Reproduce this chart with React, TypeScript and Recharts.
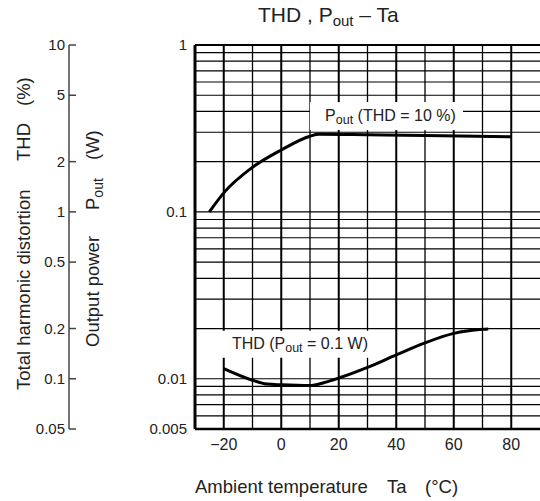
import React from "react";
import {
  LineChart,
  Line,
  XAxis,
  YAxis,
  ReferenceLine,
  ReferenceDot,
  Label,
} from "recharts";

const FONT = "'Liberation Sans', Arial, Helvetica, sans-serif";

// Pout (THD = 10 %) curve
const poutTa = [-25, -20, -10, 0, 10, 13, 30, 50, 80];
const poutW = [0.1, 0.13, 0.185, 0.235, 0.284, 0.292, 0.29, 0.287, 0.282];

// THD (Pout = 0.1 W) curve
const thdTa = [-20, -10, -5, 0, 10, 15, 20, 30, 40, 50, 60, 70, 72];
const thdPct = [0.115, 0.098, 0.093, 0.092, 0.091, 0.095, 0.101, 0.117, 0.139, 0.164, 0.187, 0.198, 0.199];

const taTicks = [-20, 0, 20, 40, 60, 80];
const poutTicks = [1, 0.1, 0.01, 0.005];
const thdTicks = [10, 5, 2, 1, 0.5, 0.2, 0.1, 0.05];

const gridTa = [-20, -10, 0, 10, 20, 30, 40, 50, 60, 70, 80];
const gridPout = [
  0.9, 0.8, 0.7, 0.6, 0.5, 0.4, 0.3, 0.2, 0.1,
  0.09, 0.08, 0.07, 0.06, 0.05, 0.04, 0.03, 0.02, 0.01,
  0.009, 0.008, 0.007, 0.006,
];

const poutData = poutTa.map((ta, i) => ({ ta, pout: poutW[i] }));
const thdData = thdTa.map((ta, i) => ({ ta, thd: thdPct[i] }));

const fmtTa = (v: number) => (v < 0 ? `\u2212${-v}` : `${v}`);

function PoutTick({ x, y, payload }: any) {
  return (
    <text x={x} y={y} dy={5} textAnchor="end" fontSize={15} fill="#222" fontFamily={FONT}>
      {payload.value}
    </text>
  );
}

function ThdTick({ x, y, payload }: any) {
  return (
    <g>
      <line x1={x} x2={x + 7} y1={y} y2={y} stroke="#444" strokeWidth={1.5} />
      <text x={x - 4} y={y} dy={5} textAnchor="end" fontSize={15} fill="#222" fontFamily={FONT}>
        {payload.value}
      </text>
    </g>
  );
}

function VText({ x, y, children }: any) {
  return (
    <text
      x={x}
      y={y}
      transform={`rotate(-90 ${x} ${y})`}
      fontSize={18.5}
      fill="#222"
      fontFamily={FONT}
    >
      {children}
    </text>
  );
}

function ThdAxisTitle({ viewBox }: any) {
  const bx = viewBox.x + 30;
  const top = viewBox.y;
  return (
    <g>
      <VText x={bx} y={top + 345}>Total harmonic distortion</VText>
      <VText x={bx} y={top + 116}>THD</VText>
      <VText x={bx} y={top + 61}>(%)</VText>
    </g>
  );
}

function PoutAxisTitle({ viewBox }: any) {
  const bx = viewBox.x + 30;
  const top = viewBox.y;
  return (
    <g>
      <VText x={bx} y={top + 302}>Output power</VText>
      <VText x={bx} y={top + 165}>
        P<tspan fontSize={14} dy={4}>out</tspan>
      </VText>
      <VText x={bx} y={top + 115}>(W)</VText>
    </g>
  );
}

function TaAxisTitle({ viewBox }: any) {
  const x = viewBox.x;
  const y = viewBox.y + 64;
  const common = { fontSize: 18.5, fill: "#222", fontFamily: FONT, y };
  return (
    <g>
      <text x={x} {...common}>Ambient temperature</text>
      <text x={x + 192} {...common}>Ta</text>
      <text x={x + 230} {...common}>(°C)</text>
    </g>
  );
}

function makeTag(w: number, h: number, shift: number, label: React.ReactNode) {
  return ({ cx, cy }: any) => (
    <g>
      <rect x={cx - w / 2} y={cy - h / 2} width={w} height={h} fill="#fff" />
      <text
        x={cx + shift}
        y={cy}
        dy={5}
        textAnchor="middle"
        fontSize={16}
        fill="#222"
        fontFamily={FONT}
      >
        {label}
      </text>
    </g>
  );
}

const PoutTag = makeTag(
  153,
  28,
  4,
  <>
    P<tspan fontSize={12.5} dy={3}>out</tspan>
    <tspan dy={-3}> (THD = 10 %)</tspan>
  </>
);

const ThdTag = makeTag(
  160,
  27,
  0,
  <>
    THD (P<tspan fontSize={12.5} dy={3}>out</tspan>
    <tspan dy={-3}> = 0.1 W)</tspan>
  </>
);

export default function App() {
  return (
    <div style={{ position: "absolute", left: 0, top: 0 }}>
      <LineChart width={540} height={501} margin={{ top: 45, right: 0, bottom: 0, left: 0 }}>
        <text x={258} y={22} fontSize={21} fill="#222" fontFamily={FONT}>
          THD , P<tspan fontSize={15} dy={4}>out</tspan>
          <tspan dy={-4}> – Ta</tspan>
        </text>
        <XAxis
          dataKey="ta"
          type="number"
          domain={[-30, 90]}
          allowDataOverflow
          ticks={taTicks}
          tickFormatter={fmtTa}
          tickLine={false}
          tickSize={0}
          tickMargin={10}
          height={72}
          axisLine={{ stroke: "#000", strokeWidth: 2.5 }}
          tick={{ fontSize: 16, fill: "#222", fontFamily: FONT }}
        >
          <Label content={<TaAxisTitle />} />
        </XAxis>
        <YAxis
          yAxisId="pout"
          type="number"
          scale="log"
          domain={[0.005, 1]}
          allowDataOverflow
          ticks={poutTicks}
          width={126}
          tickLine={false}
          tickSize={0}
          tickMargin={8}
          axisLine={{ stroke: "#000", strokeWidth: 3 }}
          tick={<PoutTick />}
        >
          <Label content={<PoutAxisTitle />} />
        </YAxis>
        <YAxis
          yAxisId="thd"
          type="number"
          scale="log"
          domain={[0.05, 10]}
          allowDataOverflow
          ticks={thdTicks}
          width={69}
          tickLine={false}
          tickSize={0}
          tickMargin={0}
          axisLine={{ stroke: "#444", strokeWidth: 1.5 }}
          tick={<ThdTick />}
        >
          <Label content={<ThdAxisTitle />} />
        </YAxis>

        {gridPout.map((v) => (
          <ReferenceLine key={`h${v}`} yAxisId="pout" y={v} stroke="#000" strokeWidth={1.2} />
        ))}
        {gridTa.map((v) => (
          <ReferenceLine
            key={`v${v}`}
            yAxisId="pout"
            x={v}
            stroke="#000"
            strokeWidth={v % 20 === 0 ? 2 : 1.3}
          />
        ))}
        <ReferenceLine yAxisId="pout" y={1} stroke="#000" strokeWidth={2} />

        <Line
          yAxisId="pout"
          data={poutData}
          dataKey="pout"
          type="monotone"
          stroke="#000"
          strokeWidth={3}
          dot={false}
          isAnimationActive={false}
        />
        <Line
          yAxisId="thd"
          data={thdData}
          dataKey="thd"
          type="monotone"
          stroke="#000"
          strokeWidth={3}
          dot={false}
          isAnimationActive={false}
        />

        <ReferenceDot yAxisId="pout" x={36.6} y={0.375} r={0} shape={PoutTag} />
        <ReferenceDot yAxisId="pout" x={6.5} y={0.0161} r={0} shape={ThdTag} />
      </LineChart>
    </div>
  );
}
